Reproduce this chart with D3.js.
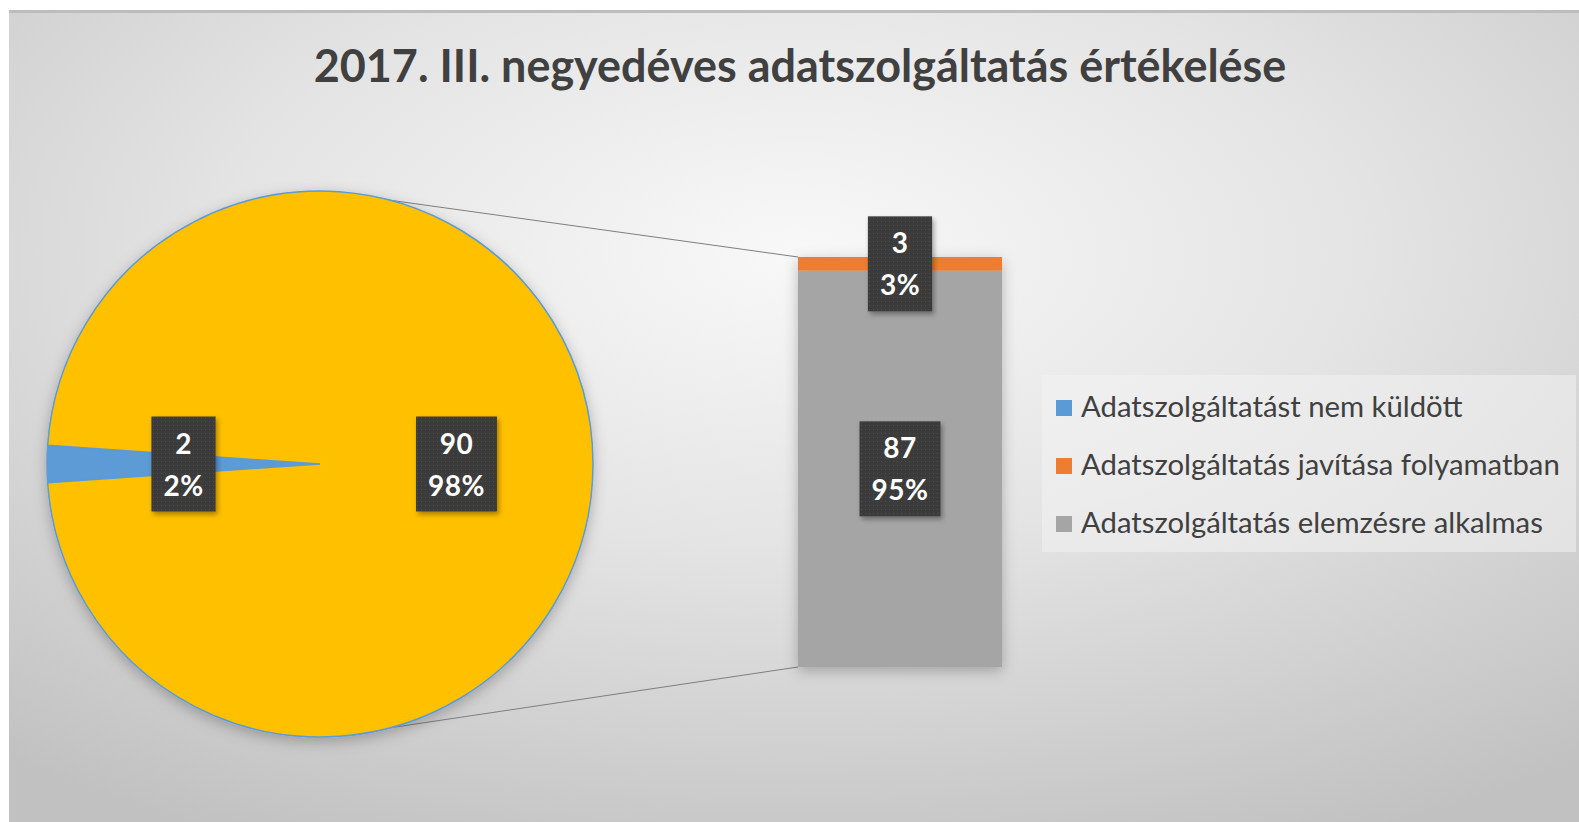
<!DOCTYPE html>
<html>
<head>
<meta charset="utf-8">
<script src="https://cdn.jsdelivr.net/npm/d3@7.9.0/dist/d3.min.js"></script>
<style>
  html, body { margin: 0; padding: 0; background: #fff; }
  svg { display: block; }
</style>
</head>
<body>
<svg id="chart" width="1579" height="822"></svg>
<script>
// data
const title = "2017. III. negyedéves adatszolgáltatás értékelése";
const categories = [
  "Adatszolgáltatást nem küldött",
  "Adatszolgáltatás javítása folyamatban",
  "Adatszolgáltatás elemzésre alkalmas"
];
const counts = [2, 3, 87];
const inBar = [false, true, true];   // which items go to the second (bar) plot
const colors = ["#5B9BD5", "#ED7D31", "#A5A5A5"];
const otherColor = "#FFC000";

const total = d3.sum(counts);
const otherTotal = d3.sum(counts.filter((_, i) => inBar[i]));
const pct = (v) => Math.round(v / total * 100) + "%";

const svg = d3.select("#chart");
const defs = svg.append("defs");

// background
const grad = defs.append("radialGradient").attr("id", "bg")
  .attr("cx", 0.5).attr("cy", 0.3).attr("r", 0.8);
grad.append("stop").attr("offset", 0).attr("stop-color", "#f8f8f8");
grad.append("stop").attr("offset", 0.45).attr("stop-color", "#e4e4e4");
grad.append("stop").attr("offset", 1).attr("stop-color", "#c1c1c1");

let shadow = defs.append("filter").attr("id", "shadow")
  .attr("x", "-20%").attr("y", "-20%").attr("width", "140%").attr("height", "140%");
shadow.append("feDropShadow").attr("dx", 0).attr("dy", 4).attr("stdDeviation", 7)
  .attr("flood-color", "#000").attr("flood-opacity", 0.25);

let boxShadow = defs.append("filter").attr("id", "boxShadow")
  .attr("x", "-30%").attr("y", "-30%").attr("width", "160%").attr("height", "160%");
boxShadow.append("feDropShadow").attr("dx", 2).attr("dy", 3).attr("stdDeviation", 2.5)
  .attr("flood-color", "#000").attr("flood-opacity", 0.35);

// dotted texture on the label boxes
let pat = defs.append("pattern").attr("id", "dots")
  .attr("width", 4).attr("height", 4).attr("patternUnits", "userSpaceOnUse");
pat.append("rect").attr("width", 4).attr("height", 4).attr("fill", "#3b3b3b");
pat.append("rect").attr("x", 1).attr("y", 1).attr("width", 1).attr("height", 1).attr("fill", "#4d4d4d");

svg.append("rect").attr("x", 9).attr("y", 10).attr("width", 1570).attr("height", 812)
  .attr("fill", "url(#bg)");
svg.append("rect").attr("x", 9).attr("y", 10).attr("width", 1570).attr("height", 3)
  .attr("fill", "#bdbdbd");

// title, fitted to the width it takes in the picture
let titleText = svg.append("text")
  .attr("x", 800).attr("y", 82)
  .attr("text-anchor", "middle")
  .attr("font-family", "Lato, 'Open Sans', sans-serif")
  .attr("font-weight", "bold")
  .attr("font-size", 40)
  .attr("fill", "#404040")
  .text(title);
let tw = titleText.node().getComputedTextLength();
titleText.attr("font-size", 40 * 973 / tw);

// ---- pie ----
const cx = 320, cy = 464, r = 273;
const pieData = [
  { label: categories[0], value: counts[0], color: colors[0] },
  { label: "other", value: otherTotal, color: otherColor }
];
const share = counts[0] / total;
const startA = 3 * Math.PI / 2 - Math.PI * share;
let pie = d3.pie().sort(null).value((d) => d.value)
  .startAngle(startA).endAngle(startA + 2 * Math.PI);
let arcGenerator = d3.arc().innerRadius(0).outerRadius(r);
let arcs = pie(pieData);

// connector lines (drawn first so the pie sits on top)
const bx0 = 798, bx1 = 1002;
let y = d3.scaleLinear().domain([0, otherTotal]).range([667, 257]);
const connA = [15, 165].map((a) => a * Math.PI / 180);
let pt = (a) => [cx + r * Math.sin(a), cy - r * Math.cos(a)];
svg.append("line")
  .attr("x1", pt(connA[0])[0]).attr("y1", pt(connA[0])[1])
  .attr("x2", bx0).attr("y2", y(otherTotal))
  .attr("stroke", "#7f7f7f").attr("stroke-width", 1);
svg.append("line")
  .attr("x1", pt(connA[1])[0]).attr("y1", pt(connA[1])[1])
  .attr("x2", bx0).attr("y2", y(0))
  .attr("stroke", "#7f7f7f").attr("stroke-width", 1);

let pieG = svg.append("g").attr("transform", `translate(${cx},${cy})`)
  .attr("filter", "url(#shadow)");
arcs.forEach((d) => {
  pieG.append("path")
    .attr("d", arcGenerator(d))
    .attr("fill", d.data.color)
    .attr("stroke", "#5B9BD5")
    .attr("stroke-width", 1.5);
});

// ---- bar (second plot) ----
let barKeys = counts.map((_, i) => i).filter((i) => inBar[i]).reverse(); // bottom first
let row = {};
barKeys.forEach((k) => row[k] = counts[k]);
let stacked = d3.stack().keys(barKeys)([row]);
let barG = svg.append("g").attr("filter", "url(#shadow)");
stacked.forEach((s) => {
  let seg = s[0];
  barG.append("rect")
    .attr("x", bx0).attr("width", bx1 - bx0)
    .attr("y", y(seg[1])).attr("height", y(seg[0]) - y(seg[1]))
    .attr("fill", colors[s.key]);
});

// ---- data labels ----
function drawLabel(x, yc, lines) {
  let g = svg.append("g");
  let box = g.append("rect").attr("fill", "url(#dots)").attr("filter", "url(#boxShadow)");
  let w = 0;
  lines.forEach((t, i) => {
    let tx = g.append("text")
      .attr("x", x).attr("y", yc - 47.5 + 37 + i * 42)
      .attr("text-anchor", "middle")
      .attr("font-family", "Lato, 'Open Sans', sans-serif")
      .attr("font-weight", "bold")
      .attr("font-size", 28)
      .attr("letter-spacing", 0.5)
      .attr("fill", "#ffffff")
      .text(t);
    w = Math.max(w, tx.node().getComputedTextLength());
  });
  w += 24;
  box.attr("x", x - w / 2).attr("y", yc - 47.5).attr("width", w).attr("height", 95);
}

arcs.forEach((d) => {
  let c = arcGenerator.centroid(d);
  drawLabel(cx + c[0], cy + c[1], [d.value, pct(d.value)]);
});
stacked.forEach((s) => {
  let seg = s[0];
  let v = counts[s.key];
  drawLabel((bx0 + bx1) / 2, (y(seg[0]) + y(seg[1])) / 2, [v, pct(v)]);
});

// ---- legend ----
svg.append("rect").attr("x", 1042).attr("y", 375).attr("width", 534).attr("height", 177)
  .attr("fill", "#f2f2f2").attr("fill-opacity", 0.55);
let legend = svg.append("g");
let legendTexts = [];
categories.forEach((c, i) => {
  let base = 417 + i * 58;
  legend.append("rect")
    .attr("x", 1056).attr("y", base - 17).attr("width", 16).attr("height", 16)
    .attr("fill", colors[i]);
  legendTexts.push(legend.append("text")
    .attr("x", 1081).attr("y", base)
    .attr("font-family", "Lato, 'Open Sans', sans-serif")
    .attr("font-size", 29)
    .attr("fill", "#404040")
    .text(c));
});
let maxW = d3.max(legendTexts, (t) => t.node().getComputedTextLength());
legendTexts.forEach((t) => t.attr("font-size", 29 * 479 / maxW));
</script>
</body>
</html>
